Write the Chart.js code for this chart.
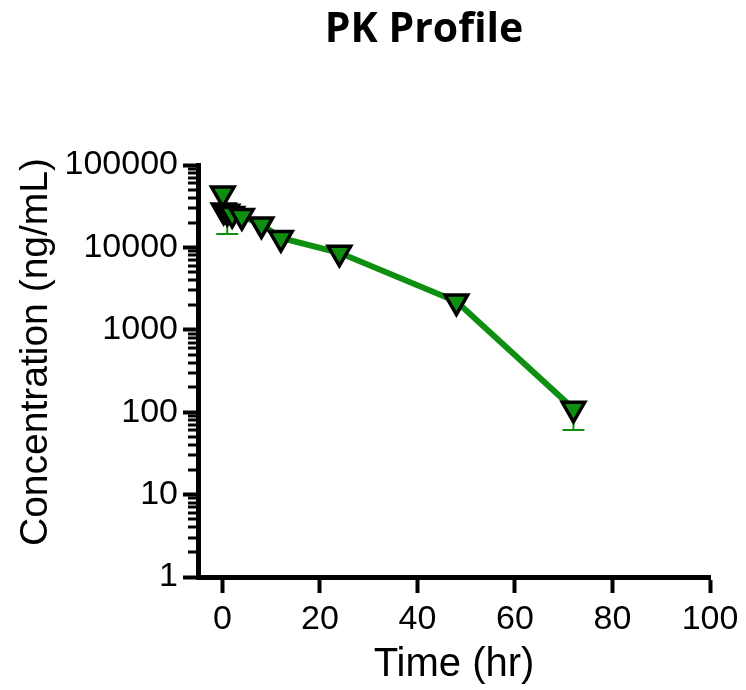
<!DOCTYPE html>
<html lang="en">
<head>
<meta charset="UTF-8">
<title>PK Profile</title>
<script src="https://cdn.jsdelivr.net/npm/chart.js@4.4.1/dist/chart.umd.min.js"></script>
<style>
    html, body { margin: 0; padding: 0; background: #fff; }
    #wrap { width: 746px; height: 690px; }
</style>
</head>
<body>
<div id="wrap"><canvas id="pk" width="746" height="690"></canvas></div>
<script>
    // data
    const timeHr = [0.083, 0.25, 1, 2, 4, 8, 12, 24, 48, 72];
    const concMean = [45000, 28000, 27000, 25500, 24000, 19000, 13000, 8600, 2200, 110];
    const concLower = [null, null, 14500, null, null, null, null, null, null, 61];
    const xTicks = [0, 20, 40, 60, 80, 100];
    const yDecades = [1, 10, 100, 1000, 10000, 100000];

    const GREEN = '#0f8f0f';
    const FONT = 'Arial, "Liberation Sans", sans-serif';

    // error bars (lower only, drawn behind markers)
    const errorBars = {
        id: 'errorBars',
        beforeDatasetsDraw(chart) {
            const ctx = chart.ctx;
            const xs = chart.scales.x, ys = chart.scales.y;
            ctx.save();
            ctx.strokeStyle = GREEN;
            ctx.lineWidth = 2;
            concLower.forEach((lo, i) => {
                if (lo == null) return;
                const px = xs.getPixelForValue(timeHr[i]);
                const py = ys.getPixelForValue(concMean[i]);
                const pl = ys.getPixelForValue(lo);
                ctx.beginPath();
                ctx.moveTo(px, py);
                ctx.lineTo(px, pl);
                ctx.moveTo(px - 11, pl);
                ctx.lineTo(px + 11, pl);
                ctx.stroke();
            });
            ctx.restore();
        }
    };

    // short minor ticks on the log axis, chart title and y title
    const extras = {
        id: 'extras',
        afterDraw(chart) {
            const ctx = chart.ctx;
            const ys = chart.scales.y;
            const left = chart.chartArea.left;
            ctx.save();
            ctx.strokeStyle = '#000';
            ctx.lineWidth = 3;
            for (let d = 0; d < yDecades.length - 1; d++) {
                for (let m = 2; m <= 9; m++) {
                    const py = Math.round(ys.getPixelForValue(yDecades[d] * m));
                    ctx.beginPath();
                    ctx.moveTo(left - 10, py);
                    ctx.lineTo(left, py);
                    ctx.stroke();
                }
            }
            ctx.fillStyle = '#000';
            ctx.textAlign = 'center';
            ctx.textBaseline = 'middle';
            ctx.font = 'bold 41px "Open Sans", sans-serif';
            ctx.fillText('PK Profile', 424, 30);

            ctx.translate(36, 352);
            ctx.rotate(-Math.PI / 2);
            ctx.font = '39px ' + FONT;
            ctx.fillText('Concentration (ng/mL)', 0, 0);
            ctx.restore();
        }
    };

    new Chart(document.getElementById('pk'), {
        type: 'line',
        data: {
            datasets: [{
                data: timeHr.map((t, i) => ({ x: t, y: concMean[i] })),
                borderColor: GREEN,
                borderWidth: 6,
                tension: 0,
                pointStyle: 'triangle',
                rotation: 180,
                pointRadius: 13,
                pointHoverRadius: 13,
                pointBorderWidth: 3.5,
                pointBorderColor: '#000',
                pointBackgroundColor: GREEN,
                clip: false
            }]
        },
        options: {
            responsive: false,
            animation: false,
            layout: { padding: { top: 165, right: 36, left: 0, bottom: 0 } },
            plugins: {
                legend: { display: false },
                tooltip: { enabled: false }
            },
            scales: {
                x: {
                    type: 'linear',
                    min: -5,
                    max: 100,
                    afterBuildTicks: (scale) => { scale.ticks = xTicks.map(v => ({ value: v })); },
                    afterFit: (scale) => { scale.height = 113; },
                    border: { display: true, color: '#000', width: 5 },
                    grid: { drawOnChartArea: false, drawTicks: true, tickLength: 16, tickWidth: 4, tickColor: '#000' },
                    ticks: { color: '#000', padding: 6, font: { family: FONT, size: 34 }, maxRotation: 0, autoSkip: false },
                    title: { display: true, text: 'Time (hr)', color: '#000', font: { family: FONT, size: 40 }, padding: { top: 4, bottom: 1 } }
                },
                y: {
                    type: 'logarithmic',
                    min: 1,
                    max: 100000,
                    afterBuildTicks: (scale) => {
                        scale.ticks = yDecades.map(v => ({ value: v, major: true }));
                    },
                    afterFit: (scale) => { scale.width = 198; },
                    border: { display: true, color: '#000', width: 5 },
                    grid: { drawOnChartArea: false, drawTicks: true, tickLength: 15, tickWidth: 4, tickColor: '#000' },
                    ticks: {
                        color: '#000', padding: 5, autoSkip: false,
                        font: { family: FONT, size: 34 },
                        callback: (v) => String(v)
                    },
                    title: { display: false }
                }
            }
        },
        plugins: [errorBars, extras]
    });
</script>
</body>
</html>
